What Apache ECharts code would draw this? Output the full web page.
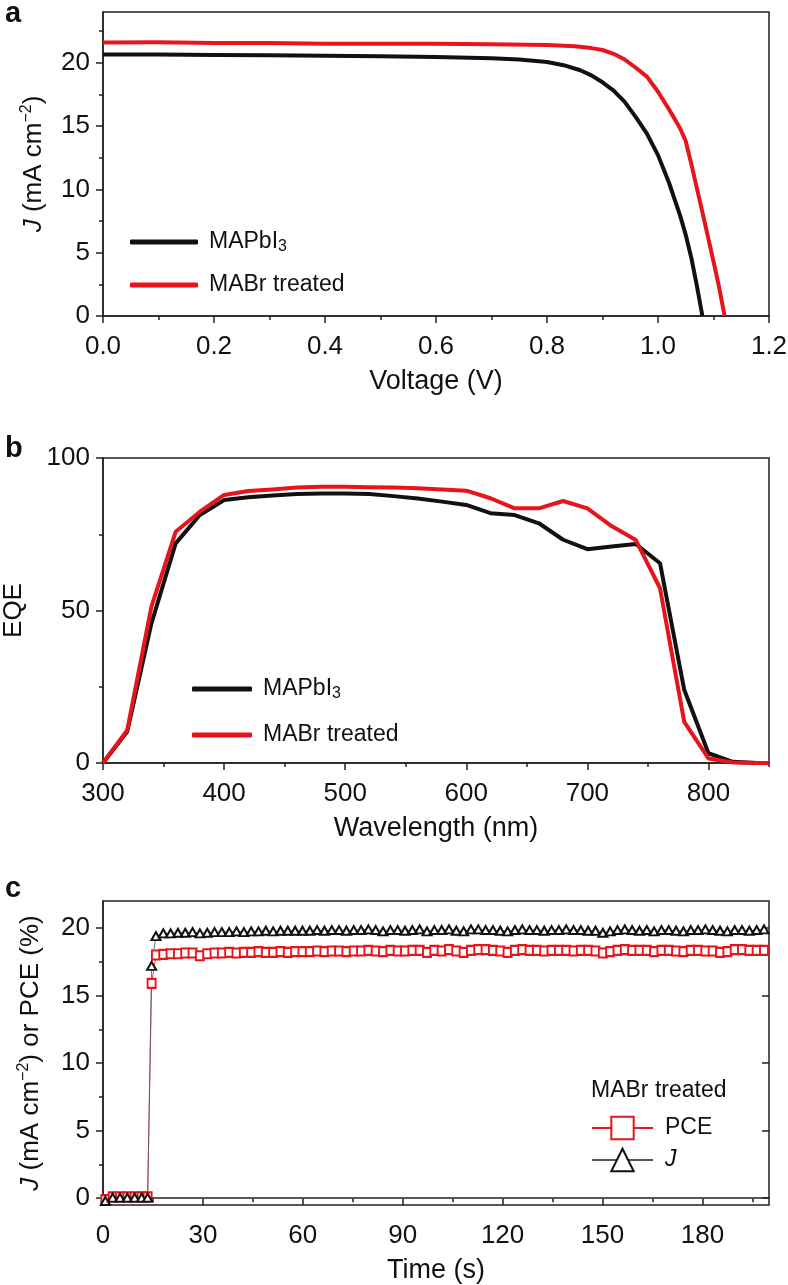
<!DOCTYPE html>
<html>
<head>
<meta charset="utf-8">
<script src="https://cdn.jsdelivr.net/npm/echarts@6/dist/echarts.min.js"></script>
<style>
html,body{margin:0;padding:0;background:#fff;}
#chart{width:788px;height:1285px;}
</style>
</head>
<body>
<div id="chart"></div>
<script>
// ---------- Panel a: J-V ----------
const jvVoltageBlack = [0,0.1,0.2,0.3,0.4,0.5,0.6,0.7,0.75,0.8,0.83,0.86,0.88,0.9,0.92,0.94,0.96,0.98,1.0,1.02,1.04,1.05,1.06,1.07,1.08];
const jvCurrentBlack = [20.65,20.65,20.6,20.58,20.55,20.5,20.45,20.35,20.25,20.05,19.8,19.4,19.0,18.45,17.8,16.9,15.7,14.4,12.7,10.5,7.9,6.4,4.6,2.4,0];
const jvVoltageRed = [0,0.1,0.2,0.3,0.4,0.5,0.6,0.7,0.8,0.85,0.88,0.9,0.92,0.94,0.96,0.98,1.0,1.02,1.04,1.05,1.06,1.08,1.1,1.11,1.12];
const jvCurrentRed = [21.6,21.62,21.55,21.55,21.5,21.5,21.5,21.45,21.4,21.3,21.15,21.0,20.7,20.25,19.6,18.9,17.7,16.3,14.8,13.8,12.0,8.2,4.3,2.3,0];
const aXTicks = [0,0.2,0.4,0.6,0.8,1.0,1.2];
const aXMinor = [0.1,0.3,0.5,0.7,0.9,1.1];
const aYTicks = [0,5,10,15,20];
const aYMinor = [2.5,7.5,12.5,17.5,22.5];

// ---------- Panel b: EQE ----------
const wavelength = [300,320,340,360,380,400,420,440,460,480,500,520,540,560,580,600,620,640,660,680,700,720,740,760,780,800,820,840,850];
const eqeBlack = [0,10.3,45.8,72,81.3,86.2,87.1,87.7,88.2,88.4,88.4,88.2,87.5,86.7,85.7,84.6,81.9,81.3,78.6,73.2,70.1,71,71.8,65.5,24,3.2,0.4,0,0];
const eqeRed = [0,10.8,51.3,75.8,82.4,87.9,89.2,89.7,90.3,90.6,90.6,90.4,90.3,90.1,89.7,89.3,86.8,83.5,83.5,85.9,83.5,77.7,73.1,57.3,13.5,1.5,0.2,0,0];
const bXTicks = [300,400,500,600,700,800];
const bXMinor = [350,450,550,650,750,850];
const bYTicks = [0,50,100];
const bYMinor = [25,75];

// ---------- Panel c: stabilised output ----------
const timeS = [0.7,2.9,5.1,7.3,9.5,11.6,13.4,14.6,
15.9,18.1,20.3,22.5,24.7,26.9,29.1,31.3,33.5,35.7,37.9,40.1,42.3,44.5,46.7,48.9,51.1,53.3,55.5,57.7,
59.9,62.1,64.3,66.5,68.7,70.9,73.1,75.3,77.5,79.7,81.9,84.1,86.3,88.5,90.7,92.9,95.1,97.3,99.5,101.7,
103.9,106.1,108.3,110.5,112.7,114.9,117.1,119.3,121.5,123.7,125.9,128.1,130.3,132.5,134.7,136.9,139.1,
141.3,143.5,145.7,147.9,150.1,152.3,154.5,156.7,158.9,161.1,163.3,165.5,167.7,169.9,172.1,174.3,176.5,
178.7,180.9,183.1,185.3,187.5,189.7,191.9,194.1,196.3,198.5];
const jValues = [-0.2,0.05,0.05,0.05,0.05,0.05,0.05,17.2,
19.4,19.6,19.6,19.65,19.65,19.7,19.6,19.65,19.7,19.7,
19.7,19.75,19.7,19.75,19.75,19.8,19.75,19.8,19.8,19.8,
19.8,19.8,19.85,19.8,19.85,19.85,19.8,19.85,19.85,19.9,
19.85,19.75,19.85,19.85,19.8,19.85,19.9,19.75,19.85,19.85,
19.9,19.8,19.75,19.9,19.9,19.85,19.85,19.8,19.75,19.85,
19.9,19.85,19.85,19.8,19.85,19.85,19.9,19.85,19.85,19.8,
19.8,19.65,19.75,19.85,19.9,19.85,19.8,19.85,19.75,19.85,
19.85,19.8,19.75,19.85,19.85,19.9,19.85,19.8,19.75,19.85,
19.85,19.8,19.85,19.9];
const pceValues = [-0.1,0.1,0.1,0.1,0.1,0.1,0.1,15.9,
18.0,18.05,18.1,18.1,18.15,18.15,17.95,18.1,18.15,18.15,
18.2,18.15,18.2,18.2,18.25,18.2,18.2,18.25,18.2,18.25,
18.25,18.25,18.3,18.25,18.3,18.3,18.25,18.3,18.3,18.35,
18.3,18.25,18.35,18.3,18.3,18.35,18.35,18.2,18.35,18.3,
18.4,18.3,18.2,18.35,18.4,18.4,18.35,18.3,18.2,18.35,
18.4,18.35,18.35,18.3,18.35,18.35,18.35,18.3,18.35,18.35,
18.3,18.15,18.25,18.35,18.4,18.35,18.35,18.35,18.25,18.35,
18.35,18.3,18.25,18.35,18.35,18.3,18.3,18.2,18.25,18.4,
18.4,18.35,18.35,18.35];
const cXTicks = [0,30,60,90,120,150,180];
const cXMinor = [15,45,75,105,135,165,195];
const cYTicks = [0,5,10,15,20];
const cYMinor = [2.5,7.5,12.5,17.5];

const FONT = '"Liberation Sans", Arial, Helvetica, sans-serif';
const INK = '#111';
const AX = '#222';
const RED = '#e8141c';
const TICK_FS = 26;
const NAME_FS = 26;

function zip(xs, ys) { return xs.map((x, i) => [x, ys[i]]); }

function mainX(grid, min, max, ticks, fmt, name) {
  return {
    type: 'value', gridIndex: grid, min: min, max: max, position: 'bottom',
    axisLine: {show: true, lineStyle: {color: AX, width: 1.5}},
    axisTick: {show: true, customValues: ticks, length: 7, inside: false, lineStyle: {color: AX, width: 1.5}},
    axisLabel: {show: true, customValues: ticks, formatter: fmt, fontSize: TICK_FS, color: INK, fontFamily: FONT, margin: 18},
    splitLine: {show: false},
    name: name, nameLocation: 'middle', nameGap: 52,
    nameTextStyle: {fontSize: 27, color: INK, fontFamily: FONT}
  };
}
function minorX(grid, min, max, ticks) {
  return {
    type: 'value', gridIndex: grid, min: min, max: max, position: 'bottom',
    axisLine: {show: false},
    axisTick: {show: true, customValues: ticks, length: 4, inside: false, lineStyle: {color: AX, width: 1.5}},
    axisLabel: {show: false}, splitLine: {show: false}
  };
}
function mainY(grid, min, max, ticks, name, gap) {
  return {
    type: 'value', gridIndex: grid, min: min, max: max, position: 'left',
    axisLine: {show: true, lineStyle: {color: AX, width: 1.5}},
    axisTick: {show: true, customValues: ticks, length: 7, inside: false, lineStyle: {color: AX, width: 1.5}},
    axisLabel: {show: true, customValues: ticks, formatter: v => String(v), fontSize: TICK_FS, color: INK, fontFamily: FONT, margin: 13},
    splitLine: {show: false},
    name: name, nameLocation: 'middle', nameGap: gap,
    nameTextStyle: {
      fontSize: NAME_FS, color: INK, fontFamily: FONT, lineHeight: 30,
      rich: {
        i: {fontStyle: 'italic', fontSize: NAME_FS, fontFamily: FONT, color: INK},
        sup: {fontSize: 16, fontFamily: FONT, color: INK, lineHeight: 6, verticalAlign: 'top'}
      }
    }
  };
}
function minorY(grid, min, max, ticks, pos, inside, len) {
  return {
    type: 'value', gridIndex: grid, min: min, max: max, position: pos,
    axisLine: {show: false},
    axisTick: {show: true, customValues: ticks, length: len, inside: inside, lineStyle: {color: AX, width: 1.5}},
    axisLabel: {show: false}, splitLine: {show: false}
  };
}

const legendText = {
  fontSize: 23, color: INK, fontFamily: FONT, lineHeight: 26, padding: [0, 0, 0, 6],
  rich: {
    sub: {fontSize: 16, fontFamily: FONT, color: INK, lineHeight: 12, verticalAlign: 'bottom'},
    i: {fontStyle: 'italic', fontSize: 23, fontFamily: FONT, color: INK}
  }
};
const legendFmt = n => n === 'MAPbI3' ? 'MAPbI{sub|3}' : (n === 'J' ? '{i|J}' : n);

const gridBase = {width: 666, show: true, borderColor: AX, borderWidth: 1.5, backgroundColor: 'transparent',
  containLabel: false, outerBoundsMode: 'none'};

const option = {
  animation: false,
  backgroundColor: '#fff',
  grid: [
    Object.assign({left: 103, top: 12, height: 304}, gridBase),
    Object.assign({left: 103, top: 458, height: 305}, gridBase),
    Object.assign({left: 103, top: 901, height: 304}, gridBase)
  ],
  xAxis: [
    mainX(0, 0, 1.2, aXTicks, v => v.toFixed(1), 'Voltage (V)'),
    minorX(0, 0, 1.2, aXMinor),
    mainX(1, 300, 850, bXTicks, v => String(v), 'Wavelength (nm)'),
    minorX(1, 300, 850, bXMinor),
    mainX(2, 0, 200, cXTicks, v => String(v), 'Time (s)'),
    minorX(2, 0, 200, cXMinor)
  ],
  yAxis: [
    mainY(0, 0, 24, aYTicks, '{i|J} (mA cm{sup|−2})', 54),
    minorY(0, 0, 24, aYMinor, 'left', false, 4),
    mainY(1, 0, 100, bYTicks, 'EQE', 74),
    minorY(1, 0, 100, bYMinor, 'left', false, 4),
    mainY(2, -0.5, 22, cYTicks, '{i|J} (mA cm{sup|−2}) or PCE (%)', 57),
    minorY(2, -0.5, 22, cYMinor, 'left', false, 4),
    minorY(2, -0.5, 22, cYTicks, 'right', true, 7)
  ],
  legend: [
    {left: 130, top: 229, orient: 'vertical', padding: 0, itemWidth: 68, itemHeight: 5, itemGap: 17,
     icon: 'roundRect', selectedMode: false, data: ['MAPbI3', 'MABr treated'], formatter: legendFmt, textStyle: legendText},
    {left: 192, top: 676, orient: 'vertical', padding: 0, itemWidth: 60, itemHeight: 5, itemGap: 20,
     icon: 'roundRect', selectedMode: false, data: ['MAPbI3', 'MABr treated'], formatter: legendFmt, textStyle: legendText},
    {left: 591, top: 1115, orient: 'vertical', padding: 0, itemWidth: 61, itemHeight: 28, itemGap: 6,
     selectedMode: false, data: ['PCE', 'J'], formatter: legendFmt, itemStyle: {borderWidth: 2},
     textStyle: Object.assign({}, legendText, {padding: [0, 0, 0, 7]})}
  ],
  graphic: [
    {type: 'text', style: {x: 5, y: 14, text: 'a', font: 'bold 29px ' + FONT, fill: INK, verticalAlign: 'middle'}},
    {type: 'text', style: {x: 5, y: 449, text: 'b', font: 'bold 29px ' + FONT, fill: INK, verticalAlign: 'middle'}},
    {type: 'text', style: {x: 5, y: 889, text: 'c', font: 'bold 29px ' + FONT, fill: INK, verticalAlign: 'middle'}},
    {type: 'text', style: {x: 591, y: 1091, text: 'MABr treated', font: '23px ' + FONT, fill: INK, verticalAlign: 'middle'}}
  ],
  series: [
    {name: 'MAPbI3', type: 'line', xAxisIndex: 0, yAxisIndex: 0, data: zip(jvVoltageBlack, jvCurrentBlack),
     showSymbol: false, symbol: 'none', lineStyle: {color: INK, width: 4, join: 'round'}, itemStyle: {color: INK}},
    {name: 'MABr treated', type: 'line', xAxisIndex: 0, yAxisIndex: 0, data: zip(jvVoltageRed, jvCurrentRed),
     showSymbol: false, symbol: 'none', lineStyle: {color: RED, width: 4, join: 'round'}, itemStyle: {color: RED}},
    {name: 'MAPbI3', type: 'line', xAxisIndex: 2, yAxisIndex: 2, data: zip(wavelength, eqeBlack),
     showSymbol: false, symbol: 'none', lineStyle: {color: INK, width: 4, join: 'round'}, itemStyle: {color: INK}},
    {name: 'MABr treated', type: 'line', xAxisIndex: 2, yAxisIndex: 2, data: zip(wavelength, eqeRed),
     showSymbol: false, symbol: 'none', lineStyle: {color: RED, width: 4, join: 'round'}, itemStyle: {color: RED}},
    {name: 'PCE', type: 'line', xAxisIndex: 4, yAxisIndex: 4, data: zip(timeS, pceValues),
     symbol: 'emptyRect', symbolSize: [8, 9], showAllSymbol: true,
     lineStyle: {color: RED, width: 0.8}, itemStyle: {color: RED, borderWidth: 1}},
    {name: 'J', type: 'line', xAxisIndex: 4, yAxisIndex: 4, data: zip(timeS, jValues),
     symbol: 'emptyTriangle', symbolSize: [9, 8], showAllSymbol: true,
     lineStyle: {color: '#555', width: 0.8}, itemStyle: {color: INK, borderWidth: 1}}
  ]
};

const chart = echarts.init(document.getElementById('chart'), null, {renderer: 'canvas'});
chart.setOption(option);
</script>
</body>
</html>
